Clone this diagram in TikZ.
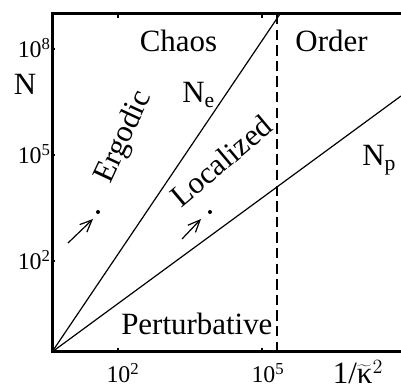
\documentclass[tikz,border=0pt]{standalone}
\usepackage{fontspec}
\setmainfont{Liberation Serif}
\usetikzlibrary{arrows.meta,calc,positioning}
\tikzset{
  axisline/.style={line width=0.75mm, line cap=rect},
  tickmark/.style={line width=0.5mm},
  scaling/.style={line width=0.3mm, line cap=round},
  boundary/.style={line width=0.38mm, dash pattern=on 2.6mm off 1.3mm},
  region/.style={font=\fontsize{22}{26}\selectfont, inner sep=0pt},
  ticklabel/.style={font=\fontsize{17}{20}\selectfont, inner sep=0pt},
  flow/.style={line width=0.3mm, -{Straight Barb[length=3mm, width=2.6mm, line width=0.3mm]}},
  marker/.style={circle, fill=black, inner sep=0pt, minimum size=1mm}
}
\begin{document}
\begin{tikzpicture}[x=0.25mm,y=-0.25mm]
\useasboundingbox (0,0) rectangle (401,390);

% --- Frame and axes ---
\coordinate (O) at (52,352);
\coordinate (topleft) at (52,14);
\coordinate (topright) at (401,14);
\coordinate (botright) at (401,352);
\draw[axisline] (topright) -- (topleft) -- (O) -- (botright);

% --- Ticks ---
\foreach \ty in {49,155,261} \draw[tickmark] (52,\ty) -- (55,\ty);
\foreach \tx in {118,262} {
  \draw[tickmark] (\tx,14) -- (\tx,18);
  \draw[tickmark] (\tx,352) -- (\tx,348);
}

% --- Tick labels ---
\node[ticklabel, anchor=base east] (y8) at (51,58) {10\textsuperscript{8}};
\node[ticklabel, anchor=base east] (y5) at (51,164) {10\textsuperscript{5}};
\node[ticklabel, anchor=base east] (y2) at (51,270) {10\textsuperscript{2}};
\node[ticklabel, anchor=base] (x2) at (123,383) {10\textsuperscript{2}};
\node[ticklabel, anchor=base] (x5) at (268,383) {10\textsuperscript{5}};

% --- Axis names ---
\node[region, anchor=base] (ylab) at (25,95) {N};
\node[region, anchor=base] (xlab) at (358,384) {1/$\widetilde{\hbox{κ}}^{2}$};

% --- Scaling lines N_e, N_p and the border ---
\coordinate (Netop) at (280,14);
\coordinate (Npend) at (401,96);
\draw[scaling] (O) -- (Netop);
\draw[scaling] (O) -- (Npend);
\coordinate (cuttop) at (277,14);
\coordinate (cutbot) at (277,352);
\draw[boundary] (cuttop) -- (cutbot);

% --- Regions ---
\node[region, anchor=base] (chaos) at (178.5,52) {Chaos};
\node[region, anchor=base] (order) at (331.5,52) {Order};
\node[region, anchor=base west] (Ne) at (182,103) {N\textsubscript{e}};
\node[region, anchor=base west] (Np) at (362,166) {N\textsubscript{p}};
\node[region, rotate=65] (ergodic) at (124,137) {Ergodic};
\node[region, rotate=40] (localized) at (221,161) {Localized};
\node[region, anchor=base west] (pert) at (121,335) {Perturbative};

% --- Markers ---
\node[marker] (dot1) at (98,212) {};
\node[marker] (dot2) at (210,212) {};
\coordinate (tail1) at (68,243);
\coordinate (tip1) at (93,219);
\coordinate (tail2) at (182,239);
\coordinate (tip2) at (201,219);
\draw[flow] (tail1) -- (tip1);
\draw[flow] (tail2) -- (tip2);

\end{tikzpicture}
\end{document}
